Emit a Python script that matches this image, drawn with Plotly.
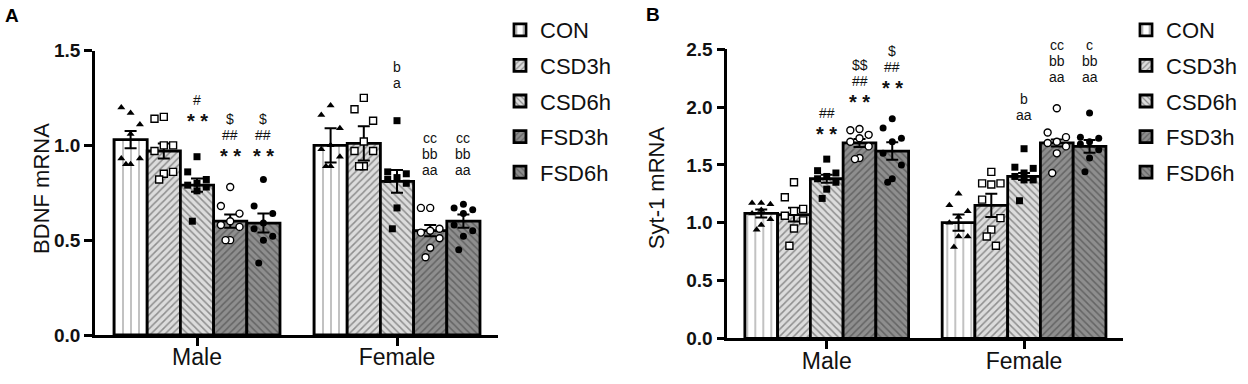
import plotly.graph_objects as go

# ---------------- data ----------------
GROUPS = ["CON", "CSD3h", "CSD6h", "FSD3h", "FSD6h"]
SEXES = ["Male", "Female"]

bdnf_mean_male = [1.03, 0.97, 0.79, 0.60, 0.59]
bdnf_sem_male = [0.045, 0.04, 0.035, 0.035, 0.05]
bdnf_mean_female = [1.00, 1.01, 0.81, 0.55, 0.60]
bdnf_sem_female = [0.09, 0.09, 0.06, 0.03, 0.035]

bdnf_pts_male = [
    [1.17, 1.20, 1.11, 1.06, 0.93, 0.93, 0.90, 0.90],
    [1.15, 1.14, 1.00, 1.00, 0.97, 0.86, 0.85, 0.82],
    [0.94, 0.86, 0.82, 0.80, 0.79, 0.78, 0.76, 0.60],
    [0.78, 0.68, 0.64, 0.60, 0.58, 0.57, 0.50, 0.50],
    [0.82, 0.68, 0.64, 0.59, 0.56, 0.52, 0.50, 0.38],
]
bdnf_pts_female = [
    [1.21, 1.16, 1.09, 1.00, 0.98, 0.94, 0.89, 0.89],
    [1.25, 1.19, 1.13, 1.02, 0.97, 0.97, 0.89, 0.89],
    [1.13, 0.86, 0.85, 0.83, 0.82, 0.80, 0.67, 0.56],
    [0.67, 0.67, 0.56, 0.55, 0.54, 0.51, 0.46, 0.41],
    [0.69, 0.67, 0.66, 0.64, 0.58, 0.55, 0.52, 0.45],
]

syt_mean_male = [1.08, 1.07, 1.38, 1.69, 1.62]
syt_sem_male = [0.035, 0.06, 0.035, 0.035, 0.075]
syt_mean_female = [1.00, 1.15, 1.40, 1.69, 1.66]
syt_sem_female = [0.07, 0.10, 0.03, 0.03, 0.055]

syt_pts_male = [
    [1.17, 1.17, 1.16, 1.11, 1.08, 1.03, 0.98, 0.94],
    [1.35, 1.22, 1.12, 1.10, 1.06, 1.02, 0.95, 0.80],
    [1.55, 1.45, 1.43, 1.40, 1.38, 1.35, 1.29, 1.21],
    [1.81, 1.80, 1.76, 1.73, 1.70, 1.66, 1.56, 1.55],
    [1.90, 1.82, 1.73, 1.70, 1.60, 1.50, 1.38, 1.35],
]
syt_pts_female = [
    [1.25, 1.15, 1.10, 1.05, 1.00, 0.88, 0.88, 0.79],
    [1.44, 1.34, 1.34, 1.33, 1.20, 1.04, 0.94, 0.88, 0.80],
    [1.64, 1.48, 1.47, 1.43, 1.40, 1.37, 1.37, 1.19],
    [1.99, 1.78, 1.74, 1.70, 1.69, 1.66, 1.60, 1.43],
    [1.95, 1.74, 1.73, 1.70, 1.68, 1.63, 1.56, 1.44],
]

# significance labels, top line first
bdnf_sig_male = [[], [], ["#", "**"], ["$", "##", "**"], ["$", "##", "**"]]
bdnf_sig_female = [[], [], ["b", "a"], ["cc", "bb", "aa"], ["cc", "bb", "aa"]]
syt_sig_male = [[], [], ["##", "**"], ["$$", "##", "**"], ["$", "##", "**"]]
syt_sig_female = [[], [], ["b", "aa"], ["cc", "bb", "aa"], ["c", "bb", "aa"]]

# label positions (centre of bottom line), layout only
bdnf_sig_y_male = [0, 0, 1.153, 0.968, 0.968]
bdnf_sig_y_female = [0, 0, 1.326, 0.868, 0.868]
syt_sig_y_male = [0, 0, 1.808, 2.085, 2.206]
syt_sig_y_female = [0, 0, 1.93, 2.263, 2.263]

# ---------------- styles ----------------
FONT = "Arial, Liberation Sans, sans-serif"
BARGAP = 0.17
BAR_W = (1 - BARGAP) / 5
JITTER = [0.0, -0.28, 0.28, 0.0, -0.28, 0.28, 0.0, -0.14, 0.14]
LINE_STEP = 16  # px between stacked label lines

PATTERNS = [
    dict(shape="|", bgcolor="white", fgcolor="black", size=8, solidity=0.12, fillmode="overlay"),
    dict(shape="/", bgcolor="#dcdcdc", fgcolor="#404040", size=5, solidity=0.3, fillmode="overlay"),
    dict(shape="\\", bgcolor="#dcdcdc", fgcolor="#404040", size=5, solidity=0.3, fillmode="overlay"),
    dict(shape="/", bgcolor="#8e8e8e", fgcolor="#3a3a3a", size=5, solidity=0.3, fillmode="overlay"),
    dict(shape="\\", bgcolor="#8e8e8e", fgcolor="#3a3a3a", size=5, solidity=0.3, fillmode="overlay"),
]
BASECOL = ["white", "#dcdcdc", "#dcdcdc", "#8e8e8e", "#8e8e8e"]
MARKERS = [
    dict(symbol="triangle-up", color="black", size=7),
    dict(symbol="square", color="white", size=7, line=dict(color="black", width=1.4)),
    dict(symbol="square", color="black", size=7),
    dict(symbol="circle", color="white", size=7, line=dict(color="black", width=1.4)),
    dict(symbol="circle", color="black", size=7),
]

fig = go.Figure()

panels = [
    dict(xa="x", ya="y", legend="legend",
         means=(bdnf_mean_male, bdnf_mean_female), sems=(bdnf_sem_male, bdnf_sem_female),
         pts=(bdnf_pts_male, bdnf_pts_female), sig=(bdnf_sig_male, bdnf_sig_female),
         sigy=(bdnf_sig_y_male, bdnf_sig_y_female)),
    dict(xa="x2", ya="y2", legend="legend2",
         means=(syt_mean_male, syt_mean_female), sems=(syt_sem_male, syt_sem_female),
         pts=(syt_pts_male, syt_pts_female), sig=(syt_sig_male, syt_sig_female),
         sigy=(syt_sig_y_male, syt_sig_y_female)),
]

annotations = []
for p in panels:
    for i, g in enumerate(GROUPS):
        fig.add_trace(go.Bar(
            x=[0, 1], y=[p["means"][0][i], p["means"][1][i]],
            name=g, xaxis=p["xa"], yaxis=p["ya"], legend=p["legend"],
            legendgroup=p["legend"] + g,
            marker=dict(color=BASECOL[i], pattern=PATTERNS[i], line=dict(color="black", width=2.8)),
            error_y=dict(type="data", array=[p["sems"][0][i], p["sems"][1][i]],
                         color="black", thickness=2, width=6),
        ))
    for i, g in enumerate(GROUPS):
        xs, ys = [], []
        for s in range(2):
            vals = p["pts"][s][i]
            for j, v in enumerate(vals):
                xs.append(s + (i - 2) * BAR_W + JITTER[j % len(JITTER)] * BAR_W)
                ys.append(v)
        fig.add_trace(go.Scatter(
            x=xs, y=ys, mode="markers", marker=MARKERS[i], showlegend=False,
            xaxis=p["xa"], yaxis=p["ya"], hoverinfo="skip", cliponaxis=False,
        ))
    for s in range(2):
        for i in range(5):
            lines = p["sig"][s][i]
            n = len(lines)
            for k, line in enumerate(lines):
                up = (n - 1 - k) * LINE_STEP
                if line == "**":
                    txt, fs, extra, wt = "* *", 20, -5, "bold"
                else:
                    txt, fs, extra, wt = line, 14, 0, "normal"
                annotations.append(dict(
                    x=s + (i - 2) * BAR_W, y=p["sigy"][s][i], xref=p["xa"], yref=p["ya"],
                    text=txt, showarrow=False, xanchor="center", yanchor="middle",
                    yshift=up + extra, borderpad=0,
                    font=dict(family=FONT, size=fs, color="#111", weight=wt),
                ))

annotations += [
    dict(x=42 / 1248, y=0.508, xref="paper", yref="paper", text="BDNF mRNA", textangle=-90,
         xanchor="center", yanchor="middle",
         showarrow=False, font=dict(family=FONT, size=22, color="#111")),
    dict(x=656 / 1248, y=0.51, xref="paper", yref="paper", text="Syt-1 mRNA", textangle=-90,
         xanchor="center", yanchor="middle",
         showarrow=False, font=dict(family=FONT, size=22, color="#111")),
    dict(x=12 / 1248, y=1 - 16 / 384, xref="paper", yref="paper", text="<b>A</b>",
         xanchor="center", yanchor="middle",
         showarrow=False, font=dict(family=FONT, size=19, color="black")),
    dict(x=653 / 1248, y=1 - 14 / 384, xref="paper", yref="paper", text="<b>B</b>",
         xanchor="center", yanchor="middle",
         showarrow=False, font=dict(family=FONT, size=19, color="black")),
]

axis_common = dict(showline=True, linecolor="black", linewidth=2.6,
                   tickcolor="black", tickwidth=2.6, showgrid=False, zeroline=False,
                   automargin=False)
xminor = dict(ticks="outside", tickvals=[0, 1], ticklen=8, tickwidth=2.6, tickcolor="black",
              showgrid=False)
YTICKFONT = dict(family=FONT, size=19, color="#111", weight="bold")
XTICKFONT = dict(family=FONT, size=23, color="#111")

fig.update_layout(
    width=1248, height=384,
    margin=dict(l=0, r=0, t=0, b=0),
    paper_bgcolor="white", plot_bgcolor="white",
    barmode="group", bargap=BARGAP, bargroupgap=0,
    font=dict(family=FONT, color="#111"),
    xaxis=dict(domain=[95 / 1248, 498 / 1248], range=[-0.51, 1.505], tickvals=[0, 1],
               ticktext=SEXES, ticks="", minor=xminor, anchor="y",
               tickfont=XTICKFONT, **axis_common),
    yaxis=dict(domain=[(384 - 335) / 384, (384 - 50.5) / 384], range=[0, 1.5],
               tickvals=[0, 0.5, 1.0, 1.5], tickformat=".1f", ticks="outside", ticklen=8,
               anchor="x", tickfont=YTICKFONT, **axis_common),
    xaxis2=dict(domain=[727.3 / 1248, 1123.3 / 1248], range=[-0.504, 1.503], tickvals=[0, 1],
                ticktext=SEXES, ticks="", minor=xminor, anchor="y2",
                tickfont=XTICKFONT, **axis_common),
    yaxis2=dict(domain=[(384 - 338.3) / 384, (384 - 49.3) / 384], range=[0, 2.5],
                tickvals=[0, 0.5, 1.0, 1.5, 2.0, 2.5], tickformat=".1f", ticks="outside",
                ticklen=8, anchor="x2", tickfont=YTICKFONT, **axis_common),
    legend=dict(x=500 / 1248, y=1 - 9 / 384, xanchor="left", yanchor="top",
                font=dict(family=FONT, size=22, color="#111"), tracegroupgap=4,
                bgcolor="rgba(0,0,0,0)"),
    legend2=dict(x=1126 / 1248, y=1 - 9 / 384, xanchor="left", yanchor="top",
                 font=dict(family=FONT, size=22, color="#111"), tracegroupgap=4,
                 bgcolor="rgba(0,0,0,0)"),
    annotations=annotations,
    showlegend=True,
)

fig.write_html("out.html", config={"displayModeBar": False},
               post_script="document.body.style.margin='0';")
